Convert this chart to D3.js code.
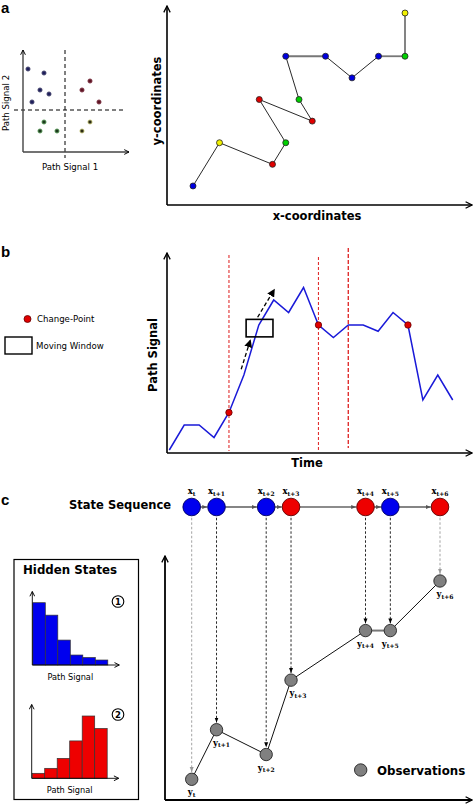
<!DOCTYPE html>
<html><head><meta charset="utf-8">
<script src="https://cdn.jsdelivr.net/npm/d3@7"></script>
<style>body{margin:0;background:#fff}svg{display:block;background:#fff}</style>
</head><body><svg id="chart" width="473" height="805"></svg>
<script>
// ---------- DATA ----------
// Panel a (left): feature space scatter
const scatterX = [5, 21, 17, 26, 9, 67, 59, 76, 21, 17, 34, 67, 59];
const scatterY = [83, 79, 62, 58, 50, 71, 62, 50, 30, 21, 21, 30, 21];
const scatterGroup = ["tl","tl","tl","tl","tl","tr","tr","tr","bl","bl","bl","br","br"];
const quadSplit = [42, 42];
// Panel a (right): path in x/y coordinates
const pathX = [2, 4, 8, 9, 7, 11, 10, 9, 12, 14, 16, 18, 18];
const pathY = [1, 3, 2, 3, 5, 4, 5, 7, 7, 6, 7, 7, 9];
const pathState = ["blue","yellow","red","green","red","red","green","blue","blue","blue","blue","green","yellow"];
// Panel b: path signal over time
const signal = [0, 2, 2, 1, 3, 6, 10, 12, 11, 13, 10, 9, 10, 10, 9.5, 11, 10, 4, 6, 4];
const changePoints = [4, 10, 16];
const segmentBounds = [4, 10, 12];
const windowTime = [5.15, 6.95];
const windowValue = [9.05, 10.45];
const windowArrowT = [[4.82, 5.42], [5.92, 7.02]];
const windowArrowV = [[6.46, 8.74], [10.62, 12.8]];
// Panel c: HMM
const stateLabels = ["t", "t+1", "t+2", "t+3", "t+4", "t+5", "t+6"];
const statePos = [0, 1, 3, 4, 7, 8, 10];
const hiddenState = [1, 1, 1, 2, 2, 1, 2];
const obsValue = [0, 2, 1, 4, 6, 6, 8];
const hist1 = [25, 20, 10, 4, 3, 2];
const hist2 = [2, 4, 8, 15, 25, 20];

// ---------- SETUP ----------
const svg = d3.select("#chart");
const SANS = "'DejaVu Sans', Verdana, sans-serif";
const SERIF = "'DejaVu Serif', serif";
const defs = svg.append("defs");
function marker(id, d, size, fill, stroke, sw, refX) {
  defs.append("marker").attr("id", id).attr("viewBox", "0 0 10 10")
    .attr("refX", refX).attr("refY", 5).attr("markerWidth", size).attr("markerHeight", size)
    .attr("markerUnits", "userSpaceOnUse").attr("orient", "auto")
    .append("path").attr("d", d).attr("fill", fill).attr("stroke", stroke).attr("stroke-width", sw);
}
marker("ax", "M1,1 L9,5 L1,9", 8, "none", "#000", 1.6, 9);
marker("axS", "M1,1 L9,5 L1,9", 6, "none", "#000", 1.6, 9);
marker("triK", "M0,1 L10,5 L0,9 z", 5, "#000", "none", 0, 10);
marker("triG", "M0,1 L10,5 L0,9 z", 5, "#999", "none", 0, 10);
marker("triC", "M0,1 L10,5 L0,9 z", 5, "#555", "none", 0, 10);
marker("triB", "M0,0 L10,5 L0,10 z", 8, "#000", "none", 0, 8);

function axisLines(x0, y0, x1, y1, m, color, w) {
  svg.append("line").attr("x1", x0).attr("y1", y0).attr("x2", x0).attr("y2", y1)
    .attr("stroke", color).attr("stroke-width", w).attr("marker-end", `url(#${m})`);
  svg.append("line").attr("x1", x0).attr("y1", y0).attr("x2", x1).attr("y2", y0)
    .attr("stroke", color).attr("stroke-width", w).attr("marker-end", `url(#${m})`);
}
function panelLabel(t, x, y) {
  svg.append("text").attr("x", x).attr("y", y).text(t)
    .attr("font-family", "'Liberation Sans', Arial, sans-serif").attr("font-weight", "bold").attr("font-size", 15);
}

// ---------- PANEL A ----------
panelLabel("a", 1, 13);
const sx = d3.scaleLinear().domain([0, 106]).range([23, 129]);
const sy = d3.scaleLinear().domain([0, 102]).range([152, 50]);
svg.append("line").attr("x1", sx(quadSplit[0])).attr("x2", sx(quadSplit[0])).attr("y1", 50).attr("y2", 158)
  .attr("stroke", "#000").attr("stroke-dasharray", "4,3").attr("stroke-width", 1);
svg.append("line").attr("y1", sy(quadSplit[1])).attr("y2", sy(quadSplit[1])).attr("x1", 14).attr("x2", 125)
  .attr("stroke", "#000").attr("stroke-dasharray", "4,3").attr("stroke-width", 1);
axisLines(23, 152, 129, 50, "axS", "#444", 1.4);
const groupFill = {tl: "#1e1e5c", tr: "#5e1424", bl: "#1c3a1c", br: "#2c2c14"};
const groupStroke = {tl: "#44446a", tr: "#7a3040", bl: "#5aa05a", br: "#c8c878"};
svg.append("g").selectAll("circle").data(scatterX).join("circle")
  .attr("cx", d => sx(d)).attr("cy", (d, i) => sy(scatterY[i])).attr("r", 2.1)
  .attr("fill", (d, i) => groupFill[scatterGroup[i]])
  .attr("stroke", (d, i) => groupStroke[scatterGroup[i]]).attr("stroke-width", 0.8);
svg.append("text").attr("x", 70).attr("y", 170).attr("text-anchor", "middle")
  .attr("font-family", SANS).attr("font-size", 8.6).text("Path Signal 1");
svg.append("text").attr("transform", "translate(9,103) rotate(-90)").attr("text-anchor", "middle")
  .attr("font-family", SANS).attr("font-size", 8.6).text("Path Signal 2");

const px = d3.scaleLinear().domain([0, 18]).range([166.5, 405]);
const py = d3.scaleLinear().domain([0, 9]).range([207.6, 13]);
axisLines(167, 205, 472, 6, "ax", "#000", 1.6);
const stateColor = {blue: "#0000e0", yellow: "#f0f000", red: "#e00000", green: "#00d000"};
const pts = pathX.map((d, i) => [px(d), py(pathY[i])]);
for (let i = 0; i < pts.length - 1; i++) {
  const a = pts[i], b = pts[i + 1];
  const straight = Math.abs(a[0] - b[0]) < 0.5 || Math.abs(a[1] - b[1]) < 0.5;
  svg.append("line").attr("x1", a[0]).attr("y1", a[1]).attr("x2", b[0]).attr("y2", b[1])
    .attr("stroke", straight ? "#777" : "#111").attr("stroke-width", straight ? 1.8 : 0.9);
}
svg.append("g").selectAll("circle").data(pts).join("circle")
  .attr("cx", d => d[0]).attr("cy", d => d[1]).attr("r", 3)
  .attr("fill", (d, i) => stateColor[pathState[i]]).attr("stroke", "#222").attr("stroke-width", 0.8);
svg.append("text").attr("x", 317).attr("y", 220).attr("text-anchor", "middle")
  .attr("font-family", SANS).attr("font-weight", "bold").attr("font-size", 11.5).text("x-coordinates");
svg.append("text").attr("transform", "translate(161,101) rotate(-90)").attr("text-anchor", "middle")
  .attr("font-family", SANS).attr("font-weight", "bold").attr("font-size", 11.5).text("y-coordinates");

// ---------- PANEL B ----------
panelLabel("b", 1, 257);
const tx = d3.scaleLinear().domain([0, 19]).range([169.3, 452.7]);
const ty = d3.scaleLinear().domain([0, 13]).range([450, 287.5]);
axisLines(167, 453, 472, 253, "ax", "#000", 1.6);
const segTop = [255, 257, 248];
segmentBounds.forEach((t, i) => {
  svg.append("line").attr("x1", tx(t)).attr("x2", tx(t)).attr("y1", segTop[i]).attr("y2", i === 2 ? 448 : 451)
    .attr("stroke", "#e03030").attr("stroke-width", i === 2 ? 1.4 : 1.1).attr("stroke-dasharray", i === 2 ? "4,2" : "3,2");
});
svg.append("path").datum(signal)
  .attr("d", d3.line().x((d, i) => tx(i)).y(d => ty(d)))
  .attr("fill", "none").attr("stroke", "#1a1ad8").attr("stroke-width", 1.5);
svg.append("rect").attr("x", tx(windowTime[0])).attr("y", ty(windowValue[1]))
  .attr("width", tx(windowTime[1]) - tx(windowTime[0])).attr("height", ty(windowValue[0]) - ty(windowValue[1]))
  .attr("fill", "none").attr("stroke", "#000").attr("stroke-width", 1.6);
windowArrowT.forEach((tt, i) => {
  svg.append("line").attr("x1", tx(tt[0])).attr("y1", ty(windowArrowV[i][0]))
    .attr("x2", tx(tt[1])).attr("y2", ty(windowArrowV[i][1]))
    .attr("stroke", "#000").attr("stroke-width", 1.3).attr("stroke-dasharray", "4,2.5").attr("marker-end", "url(#triB)");
});
svg.append("g").selectAll("circle").data(changePoints).join("circle")
  .attr("cx", d => tx(d)).attr("cy", d => ty(signal[d])).attr("r", 3.2)
  .attr("fill", "#e00000").attr("stroke", "#600").attr("stroke-width", 0.8);
svg.append("text").attr("x", 307).attr("y", 467).attr("text-anchor", "middle")
  .attr("font-family", SANS).attr("font-weight", "bold").attr("font-size", 11.5).text("Time");
svg.append("text").attr("transform", "translate(157,355) rotate(-90)").attr("text-anchor", "middle")
  .attr("font-family", SANS).attr("font-weight", "bold").attr("font-size", 11.5).text("Path Signal");
// legend
svg.append("circle").attr("cx", 27.5).attr("cy", 319).attr("r", 3.5).attr("fill", "#e00000").attr("stroke", "#600").attr("stroke-width", 0.8);
svg.append("text").attr("x", 37).attr("y", 322).attr("font-family", SANS).attr("font-size", 8.6).text("Change-Point");
svg.append("rect").attr("x", 5).attr("y", 337).attr("width", 27).attr("height", 17).attr("fill", "none").attr("stroke", "#000").attr("stroke-width", 1.4);
svg.append("text").attr("x", 36).attr("y", 349).attr("font-family", SANS).attr("font-size", 8.6).text("Moving Window");

// ---------- PANEL C ----------
panelLabel("c", 1, 505);
svg.append("text").attr("x", 171).attr("y", 509).attr("text-anchor", "end")
  .attr("font-family", SANS).attr("font-weight", "bold").attr("font-size", 11.5).text("State Sequence");
const cx = d3.scaleLinear().domain([0, 10]).range([191.7, 440]);
const cy = d3.scaleLinear().domain([0, 8]).range([779.3, 581]);
const stateY = 507, R = 8.8, OR = 6.2;
const hsFill = {1: "#0000ee", 2: "#ee0000"};
const hsStroke = {1: "#000060", 2: "#600000"};
axisLines(165, 800, 472, 556, "ax", "#000", 1.8);
// dashed emission arrows
statePos.forEach((p, i) => {
  const gray = i === 0 || i === statePos.length - 1;
  svg.append("line").attr("x1", cx(p)).attr("x2", cx(p)).attr("y1", stateY + R + 2).attr("y2", cy(obsValue[i]) - OR - 1)
    .attr("stroke", gray ? "#999" : "#111").attr("stroke-width", 0.9).attr("stroke-dasharray", "2.5,2")
    .attr("marker-end", gray ? "url(#triG)" : "url(#triK)");
});
// chain
for (let i = 0; i < statePos.length - 1; i++) {
  svg.append("line").attr("x1", cx(statePos[i]) + R).attr("x2", cx(statePos[i + 1]) - R - 0.5)
    .attr("y1", stateY).attr("y2", stateY).attr("stroke", "#666").attr("stroke-width", 1.6).attr("marker-end", "url(#triC)");
}
svg.append("g").selectAll("circle").data(statePos).join("circle")
  .attr("cx", d => cx(d)).attr("cy", stateY).attr("r", R)
  .attr("fill", (d, i) => hsFill[hiddenState[i]]).attr("stroke", (d, i) => hsStroke[hiddenState[i]]).attr("stroke-width", 0.9);
statePos.forEach((p, i) => {
  const t = svg.append("text").attr("x", cx(p)).attr("y", stateY - R - 4).attr("text-anchor", "middle")
    .attr("font-family", SERIF).attr("font-weight", "bold").attr("font-size", 8.5);
  t.append("tspan").text("x");
  t.append("tspan").attr("font-size", 6).attr("dy", 1.5).text(stateLabels[i]);
});
// observations
const obsPts = statePos.map((p, i) => [cx(p), cy(obsValue[i])]);
for (let i = 0; i < obsPts.length - 1; i++) {
  const a = obsPts[i], b = obsPts[i + 1];
  const flat = Math.abs(a[1] - b[1]) < 0.5;
  svg.append("line").attr("x1", a[0]).attr("y1", a[1]).attr("x2", b[0]).attr("y2", b[1])
    .attr("stroke", flat ? "#777" : "#111").attr("stroke-width", flat ? 2 : 1);
}
svg.append("g").selectAll("circle").data(obsPts).join("circle")
  .attr("cx", d => d[0]).attr("cy", d => d[1]).attr("r", OR)
  .attr("fill", "#808080").attr("stroke", "#222").attr("stroke-width", 0.9);
const obsDx = [0, 5, 0, 7, 0, 0, 5];
obsPts.forEach((d, i) => {
  const t = svg.append("text").attr("x", d[0] + obsDx[i]).attr("y", d[1] + 16).attr("text-anchor", "middle")
    .attr("font-family", SERIF).attr("font-weight", "bold").attr("font-size", 8.5);
  t.append("tspan").text("y");
  t.append("tspan").attr("font-size", 6).attr("dy", 1.5).text(stateLabels[i]);
});
svg.append("circle").attr("cx", 360.7).attr("cy", 770).attr("r", OR).attr("fill", "#808080").attr("stroke", "#222").attr("stroke-width", 0.9);
svg.append("text").attr("x", 377).attr("y", 774.5).attr("font-family", SANS).attr("font-weight", "bold")
  .attr("font-size", 11.8).text("Observations");

// Hidden states box
svg.append("rect").attr("x", 14).attr("y", 559.5).attr("width", 124.5).attr("height", 240)
  .attr("fill", "#fff").attr("stroke", "#000").attr("stroke-width", 1.2);
svg.append("text").attr("x", 23).attr("y", 574).attr("font-family", SANS).attr("font-weight", "bold")
  .attr("font-size", 11.8).text("Hidden States");
function histogram(vals, x0, yBase, yTop, fill, num) {
  const bx = d3.scaleBand().domain(d3.range(vals.length)).range([x0 + 0.5, x0 + 0.5 + 12.5 * vals.length]).padding(0);
  const by = d3.scaleLinear().domain([0, 25]).range([yBase, yBase - 62.3]);
  svg.append("g").selectAll("rect").data(vals).join("rect")
    .attr("x", (d, i) => bx(i)).attr("y", d => by(d)).attr("width", bx.bandwidth()).attr("height", d => yBase - by(d))
    .attr("fill", fill).attr("stroke", "#333").attr("stroke-width", 0.7);
  axisLines(x0, yBase, x0 + 87, yTop, "axS", "#000", 0.9);
  svg.append("circle").attr("cx", 118).attr("cy", yTop + 10).attr("r", 5.8).attr("fill", "#fff").attr("stroke", "#000").attr("stroke-width", 1.1);
  svg.append("text").attr("x", 118).attr("y", yTop + 13.2).attr("text-anchor", "middle").attr("font-family", SANS)
    .attr("font-weight", "bold").attr("font-size", 8.5).text(num);
  svg.append("text").attr("x", x0 + 38).attr("y", yBase + 14.5).attr("text-anchor", "middle").attr("font-family", SANS)
    .attr("font-size", 8.2).text("Path Signal");
}
histogram(hist1, 32.3, 665, 591.5, "#0000ee", "1");
histogram(hist2, 31.7, 778.3, 704.5, "#ee0000", "2");
</script></body></html>
